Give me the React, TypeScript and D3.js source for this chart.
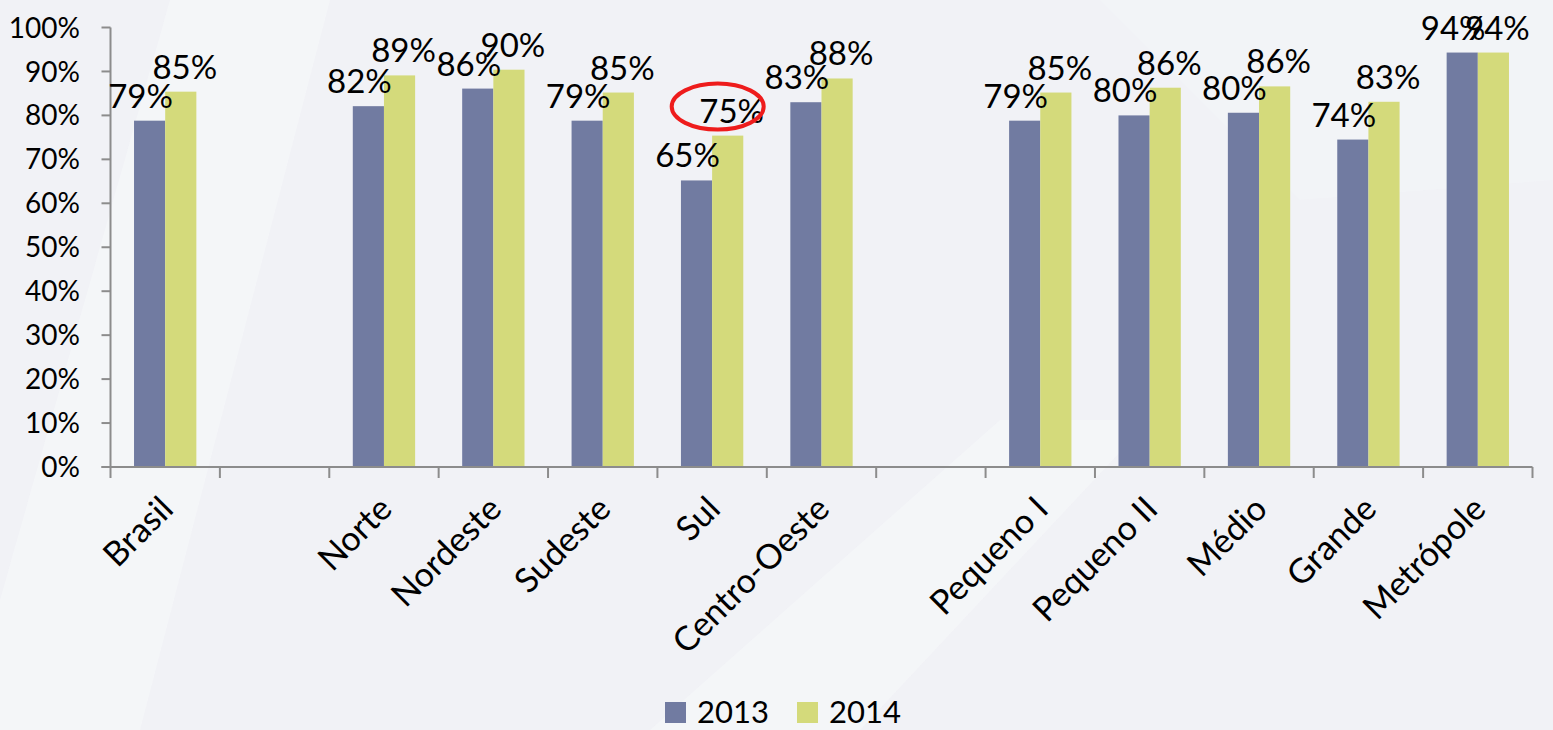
import React from 'react';
import * as d3 from 'd3';

// categorias (os vazios sao espacos entre grupos)
const slots = ['Brasil', '_a', 'Norte', 'Nordeste', 'Sudeste', 'Sul', 'Centro-Oeste', '_b', 'Pequeno I', 'Pequeno II', 'Médio', 'Grande', 'Metrópole'];
const categorias = ['Brasil', 'Norte', 'Nordeste', 'Sudeste', 'Sul', 'Centro-Oeste', 'Pequeno I', 'Pequeno II', 'Médio', 'Grande', 'Metrópole'];
const anos = ['2013', '2014'];
const valores2013 = [0.788, 0.821, 0.861, 0.788, 0.652, 0.83, 0.788, 0.80, 0.806, 0.745, 0.943];
const valores2014 = [0.854, 0.891, 0.904, 0.852, 0.754, 0.884, 0.852, 0.863, 0.866, 0.831, 0.943];
const rotulos2013 = ['79%', '82%', '86%', '79%', '65%', '83%', '79%', '80%', '80%', '74%', '94%'];
const rotulos2014 = ['85%', '89%', '90%', '85%', '75%', '88%', '85%', '86%', '86%', '83%', '94%'];
const yTicks = [0, 0.1, 0.2, 0.3, 0.4, 0.5, 0.6, 0.7, 0.8, 0.9, 1];
const destaque = 'Sul'; // rotulo circulado

const cores = { '2013': '#717ba1', '2014': '#d4da7b' };
const fonte = 'Lato, "Open Sans", sans-serif';

export default function App() {
	const width = 1553;
	const height = 730;
	const x0 = 110.5, x1 = 1532.5;
	const yBase = 467, yTop = 27.5;

	const x = d3.scaleBand().domain(slots).range([x0, x1]).padding(0);
	const xInner = d3.scaleBand().domain(anos).range([0, x.bandwidth()]).paddingInner(0).paddingOuter(0.755);
	const y = d3.scaleLinear().domain([0, 1]).range([yBase, yTop]);

	const series = [
		{ ano: '2013', vals: valores2013, rot: rotulos2013, dx: -9 },
		{ ano: '2014', vals: valores2014, rot: rotulos2014, dx: 4 }
	];

	const bordas = slots.map(s => x(s)).concat([x1]);

	const sulX = (x('Sul') || 0) + (xInner('2014') || 0) + xInner.bandwidth() / 2 + 4;
	const sulY = y(valores2014[categorias.indexOf(destaque)]) - 13;

	return (
		<svg width={width} height={height} style={{ position: 'absolute', left: 0, top: 0, fontFamily: fonte }}>
			<rect x={0} y={0} width={width} height={height} fill="#f1f2f6" />
			{/* faixas claras do fundo */}
			<polygon points="170,0 330,0 140,730 0,730 0,600" fill="#f7f8fa" opacity={0.6} />
			<polygon points="650,730 1000,420 1150,420 860,730" fill="#f7f8fa" opacity={0.6} />
			<polygon points="1100,0 1553,0 1553,180 1300,200" fill="#f4f5f8" opacity={0.6} />

			{/* barras */}
			{series.map(s => (
				<g key={s.ano}>
					{categorias.map((c, i) => (
						<rect
							key={c}
							x={(x(c) || 0) + (xInner(s.ano) || 0)}
							y={y(s.vals[i])}
							width={xInner.bandwidth()}
							height={yBase - y(s.vals[i])}
							fill={cores[s.ano]}
						/>
					))}
				</g>
			))}

			{/* eixo y */}
			<line x1={x0} x2={x0} y1={yTop} y2={yBase} stroke="#8c8c8c" strokeWidth={2} />
			{yTicks.map(t => (
				<g key={t}>
					<line x1={x0 - 9} x2={x0} y1={y(t)} y2={y(t)} stroke="#8c8c8c" strokeWidth={2} />
					<text x={80} y={y(t)} dy="0.36em" textAnchor="end" fontSize={28} fill="#000">
						{d3.format('.0%')(t)}
					</text>
				</g>
			))}

			{/* eixo x */}
			<line x1={x0 - 9} x2={x1} y1={yBase} y2={yBase} stroke="#8c8c8c" strokeWidth={2} />
			{bordas.map((b, i) => (
				<line key={i} x1={b} x2={b} y1={yBase} y2={yBase + 11} stroke="#8c8c8c" strokeWidth={2} />
			))}
			{categorias.map(c => (
				<text
					key={c}
					textAnchor="end"
					fontSize={34}
					fill="#000"
					transform={`translate(${(x(c) || 0) + x.bandwidth() / 2 + 10},${yBase + 44}) rotate(-45)`}
				>
					{c}
				</text>
			))}

			{/* rotulos de dados */}
			{series.map(s => (
				<g key={'r' + s.ano}>
					{categorias.map((c, i) => (
						<text
							key={c}
							x={(x(c) || 0) + (xInner(s.ano) || 0) + xInner.bandwidth() / 2 + s.dx}
							y={y(s.vals[i]) - 13}
							textAnchor="middle"
							fontSize={33}
							fill="#000"
						>
							{s.rot[i]}
						</text>
					))}
				</g>
			))}

			{/* destaque */}
			<ellipse cx={sulX - 14} cy={sulY - 16} rx={46} ry={23} fill="none" stroke="#ee1c1c" strokeWidth={4} />

			{/* legenda */}
			{anos.map((a, i) => (
				<g key={a} transform={`translate(${665 + i * 132},702)`}>
					<rect x={0} y={0} width={21} height={21} fill={cores[a]} />
					<text x={32} y={21} fontSize={31} fill="#000">{a}</text>
				</g>
			))}
		</svg>
	);
}
